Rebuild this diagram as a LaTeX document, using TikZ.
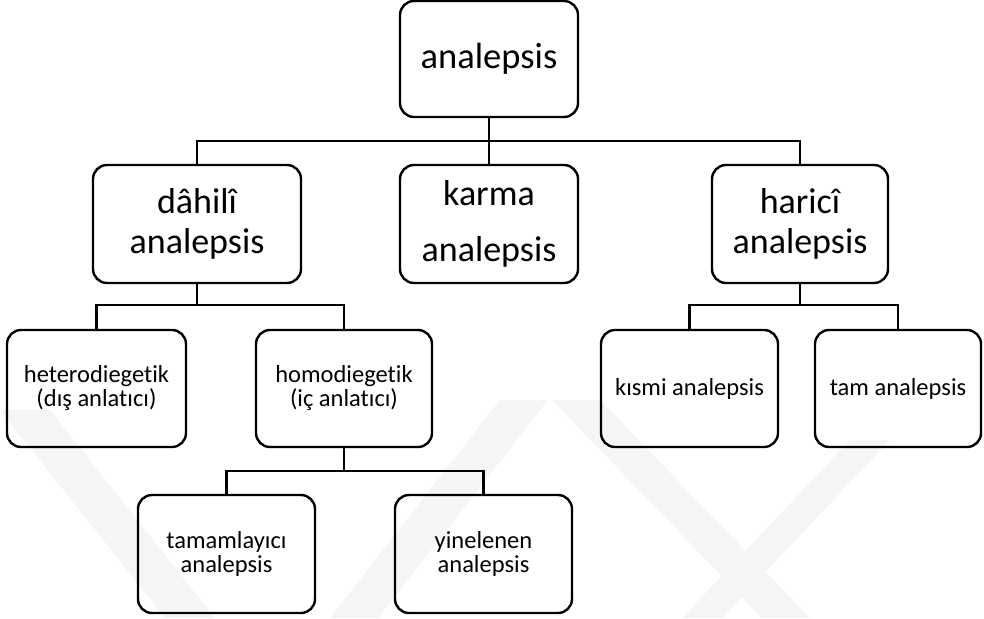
\documentclass[tikz,border=0pt]{standalone}
\usepackage{fontspec}
\setmainfont{Carlito}[Ligatures={NoCommon}]
\begin{document}
\begin{tikzpicture}[x=1pt,y=-1pt,
  box/.style={draw, line width=2.4pt, rounded corners=14pt, inner sep=0pt, align=center, fill=none},
  big/.style={font=\fontsize{36}{40}\selectfont},
  small/.style={font=\fontsize{24.5}{24}\selectfont},
  conn/.style={line width=2.4pt},
  wm/.style={fill=black!4, draw=none}]
\useasboundingbox (0,0) rectangle (984,618);
% faint watermark bands
\fill[wm] (0,410) -- (50,410) -- (215,618) -- (165,618) -- cycle;
\fill[wm] (500,400) -- (548,400) -- (378,618) -- (330,618) -- cycle;
\fill[wm] (552,400) -- (600,400) -- (810,618) -- (762,618) -- cycle;
\fill[wm] (850,440) -- (890,440) -- (722,618) -- (682,618) -- cycle;
% boxes
\node[box, minimum width=178pt, minimum height=116pt, font=\fontsize{36.5}{40}\selectfont] (top) at (489,59) {analepsis};
\node[box, big, minimum width=208pt, minimum height=118pt] (dahili) at (197,224) {dâhilî\\analepsis};
\node[box, minimum width=178pt, minimum height=118pt, font=\fontsize{36}{56}\selectfont] (karma) at (489,224) {karma\\analepsis};
\node[box, big, minimum width=176pt, minimum height=118pt] (harici) at (800,224) {haricî\\analepsis};
\node[box, small, minimum width=179pt, minimum height=117pt] (hetero) at (96.5,388.5) {heterodiegetik\\(dış anlatıcı)};
\node[box, small, minimum width=176pt, minimum height=117pt] (homo) at (344,388.5) {homodiegetik\\(iç anlatıcı)};
\node[box, small, minimum width=177pt, minimum height=117pt] (kismi) at (689.5,388.5) {kısmi analepsis};
\node[box, small, minimum width=166pt, minimum height=117pt] (tam) at (898,388.5) {tam analepsis};
\node[box, small, minimum width=177pt, minimum height=118pt] (tamam) at (226.5,554) {tamamlayıcı\\analepsis};
\node[box, small, minimum width=177pt, minimum height=118pt] (yinel) at (483.5,554) {yinelenen\\analepsis};
% junctions
\coordinate (j1) at (489,141);
\coordinate (j2) at (197,305);
\coordinate (j3) at (800,305);
\coordinate (j4) at (344,471);
% connectors
\draw[conn] (top.south) -- (j1);
\draw[conn] (karma.north) -- (j1);
\draw[conn] (dahili.north) |- (j1) -| (harici.north);
\draw[conn] (dahili.south) -- (j2);
\draw[conn] (hetero.north) |- (j2) -| (homo.north);
\draw[conn] (harici.south) -- (j3);
\draw[conn] (kismi.north) |- (j3) -| (tam.north);
\draw[conn] (homo.south) -- (j4);
\draw[conn] (tamam.north) |- (j4) -| (yinel.north);
\end{tikzpicture}
\end{document}
